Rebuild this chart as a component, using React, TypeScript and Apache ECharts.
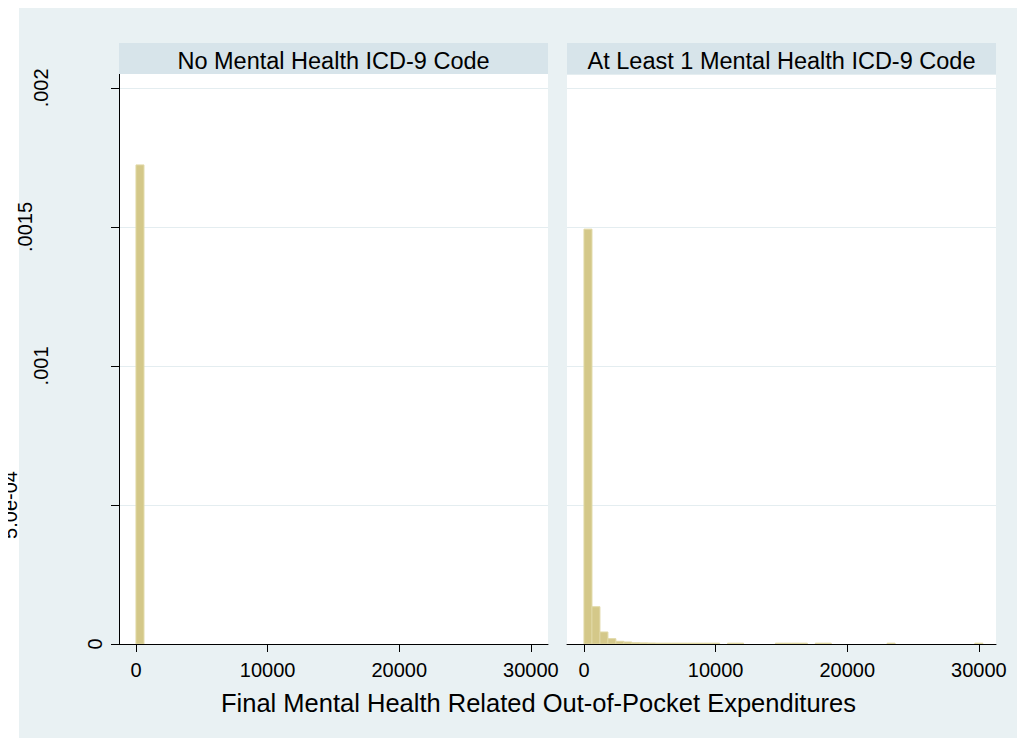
import React, { useEffect, useRef } from "react";
import * as echarts from "echarts";

// Histogram bins (lower edge of each bin, density) per panel
const binWidth = 606;
const leftBinStart = [0];
const leftDensity = [0.001723];
const rightBinStart = [
  0, 606, 1212, 1818, 2424, 3030, 3636, 4242, 4848, 5454, 6060, 6666, 7272,
  7878, 8484, 9090, 9696, 10908, 11514, 14544, 15150, 15756, 16362, 17574,
  18180, 23028, 29694,
];
const rightDensity = [
  0.001492, 0.000134, 0.0000432, 0.0000191, 0.0000097, 0.0000072, 0.0000045,
  0.000004, 0.0000035, 0.000003, 0.000003, 0.000003, 0.000003, 0.000003,
  0.000003, 0.000003, 0.000003, 0.000003, 0.000003, 0.000003, 0.000003,
  0.000003, 0.000003, 0.000003, 0.000003, 0.000003, 0.000003,
];

const panelTitles = ["No Mental Health ICD-9 Code", "At Least 1 Mental Health ICD-9 Code"];
const xTitle = "Final Mental Health Related Out-of-Pocket Expenditures";
const xTicks = [0, 10000, 20000, 30000];
const yTicks = [0, 0.0005, 0.001, 0.0015, 0.002];
const yTickLabels = ["0", "5.0e-04", ".001", ".0015", ".002"];
// distance (px) between the y axis line and each rotated tick label
const yLabelMargin = [14, 99, 68, 84, 68];

const FONT = 'Arial, "Liberation Sans", sans-serif';
const BG = "#e9f1f3";
const STRIP = "#d7e4ea";
const GRIDLINE = "#e4edf0";
const BAR_FILL = "#d4c889";
const BAR_EDGE = "#e0d8a5";

const X_MIN = -1290;
const X_MAX = 31300;
const Y_MAX = 0.00205;

const toBins = (starts: number[], dens: number[]) =>
  starts.map((s, i) => [s, s + binWidth, dens[i]]);

export default function App() {
  const ref = useRef<HTMLDivElement>(null);

  useEffect(() => {
    if (!ref.current) return;
    const chart = echarts.init(ref.current, undefined, { renderer: "svg" });

    const renderBin = (_params: any, api: any) => {
      const p0 = api.coord([api.value(0), api.value(2)]);
      const p1 = api.coord([api.value(1), 0]);
      return {
        type: "rect",
        shape: { x: p0[0], y: p0[1], width: p1[0] - p0[0], height: p1[1] - p0[1] },
        style: { fill: BAR_FILL, stroke: BAR_EDGE, lineWidth: 1 },
      };
    };

    const xAxisBase = {
      type: "value",
      position: "bottom",
      min: X_MIN,
      max: X_MAX,
      axisLine: { show: true, onZero: false, lineStyle: { color: "#000", width: 1 } },
      axisTick: { show: true, length: 8, customValues: xTicks, lineStyle: { color: "#000" } },
      axisLabel: {
        customValues: xTicks,
        fontSize: 20,
        fontFamily: FONT,
        color: "#000",
        margin: 16,
        formatter: (v: number) => String(v),
      },
      splitLine: { show: false },
    };

    // label-only axes for the left panel (an overlay grid of the same size),
    // one per tick so each rotated label sits at its own distance
    const yLabelAxes = yTicks.map((t, i) => ({
      type: "value",
      gridIndex: 2,
      position: "left",
      min: 0,
      max: Y_MAX,
      axisLine: { show: false, onZero: false },
      axisTick: { show: false },
      splitLine: { show: false },
      axisLabel: {
        customValues: [t],
        rotate: 90,
        margin: yLabelMargin[i],
        fontSize: 20,
        lineHeight: 20,
        fontFamily: FONT,
        color: "#000",
        formatter: () => yTickLabels[i],
      },
    }));

    const gridBase = {
      top: 66,
      width: 429,
      height: 570,
      borderWidth: 0,
      containLabel: false,
      outerBoundsMode: "none",
    };

    chart.setOption({
      animation: false,
      backgroundColor: BG,
      grid: [
        { ...gridBase, left: 111, show: true, backgroundColor: "#fff" },
        { ...gridBase, left: 559, show: true, backgroundColor: "#fff" },
        { ...gridBase, left: 111, show: false },
      ],
      xAxis: [
        { ...xAxisBase, gridIndex: 0 },
        { ...xAxisBase, gridIndex: 1 },
        { type: "value", gridIndex: 2, min: X_MIN, max: X_MAX, show: false },
      ],
      yAxis: [
        {
          type: "value",
          gridIndex: 0,
          position: "left",
          min: 0,
          max: Y_MAX,
          interval: 0.0005,
          axisLine: { show: true, onZero: false, lineStyle: { color: "#000", width: 1 } },
          axisTick: { show: true, length: 8, customValues: yTicks, lineStyle: { color: "#000" } },
          axisLabel: { show: false },
          splitLine: { show: true, lineStyle: { color: GRIDLINE, width: 1 } },
        },
        {
          type: "value",
          gridIndex: 1,
          position: "left",
          min: 0,
          max: Y_MAX,
          interval: 0.0005,
          axisLine: { show: false, onZero: false },
          axisTick: { show: false },
          axisLabel: { show: false },
          splitLine: { show: true, lineStyle: { color: GRIDLINE, width: 1 } },
        },
        ...yLabelAxes,
      ],
      series: [
        {
          type: "custom",
          xAxisIndex: 0,
          yAxisIndex: 0,
          renderItem: renderBin,
          encode: { x: [0, 1], y: 2 },
          data: toBins(leftBinStart, leftDensity),
          clip: true,
          silent: true,
        },
        {
          type: "custom",
          xAxisIndex: 1,
          yAxisIndex: 1,
          renderItem: renderBin,
          encode: { x: [0, 1], y: 2 },
          data: toBins(rightBinStart, rightDensity),
          clip: true,
          silent: true,
        },
      ],
      graphic: [
        // white page margin to the left of the graph region
        { id: "margin", type: "rect", z: -10, shape: { x: 0, y: 0, width: 11, height: 730 }, style: { fill: "#fff" } },
        // panel header strips
        { id: "strip0", type: "rect", z: 1, shape: { x: 111, y: 35, width: 429, height: 31 }, style: { fill: STRIP } },
        { id: "strip1", type: "rect", z: 1, shape: { x: 559, y: 35, width: 429, height: 31 }, style: { fill: STRIP } },
        {
          id: "title0",
          type: "text",
          z: 2,
          x: 325.5,
          y: 53,
          style: {
            text: panelTitles[0],
            fontSize: 23.5,
            fontFamily: FONT,
            fill: "#000",
            align: "center",
            verticalAlign: "middle",
          },
        },
        {
          id: "title1",
          type: "text",
          z: 2,
          x: 773.5,
          y: 53,
          style: {
            text: panelTitles[1],
            fontSize: 23.5,
            fontFamily: FONT,
            fill: "#000",
            align: "center",
            verticalAlign: "middle",
          },
        },
        {
          id: "xtitle",
          type: "text",
          z: 2,
          x: 530.5,
          y: 695,
          style: {
            text: xTitle,
            fontSize: 25.5,
            fontFamily: FONT,
            fill: "#000",
            align: "center",
            verticalAlign: "middle",
          },
        },
      ],
    });

    // vertical rule of the left panel's y axis, placed from the axis scales
    const top = chart.convertToPixel({ xAxisIndex: 0, yAxisIndex: 0 }, [X_MIN, Y_MAX]) as number[];
    const bottom = chart.convertToPixel({ xAxisIndex: 0, yAxisIndex: 0 }, [X_MIN, 0]) as number[];
    const ruleX = Math.round(top[0]) + 0.5;
    chart.setOption({
      graphic: [
        {
          id: "yRule",
          type: "line",
          z: 100,
          silent: true,
          shape: { x1: ruleX, y1: top[1], x2: ruleX, y2: bottom[1] },
          style: { stroke: "#000", lineWidth: 1 },
        },
      ],
    });

    return () => chart.dispose();
  }, []);

  return (
    <div
      ref={ref}
      style={{ position: "fixed", left: 8, top: 8, width: 1009, height: 730 }}
    />
  );
}
